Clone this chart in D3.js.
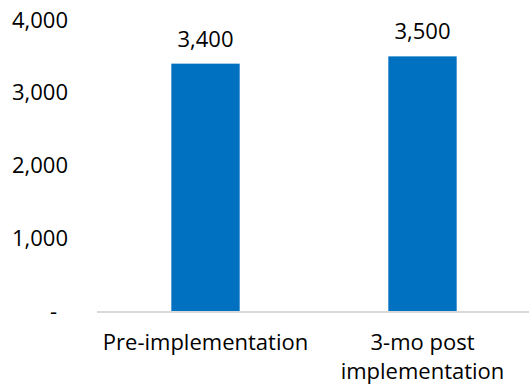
<!DOCTYPE html>
<html>
<head>
<meta charset="utf-8">
<script src="https://cdn.jsdelivr.net/npm/d3@7"></script>
<style>
  body { margin: 0; background: #fff; }
  text { font-family: "Open Sans", "Noto Sans", sans-serif; fill: #000; }
</style>
</head>
<body>
<div id="chart"></div>
<script>
// Chart data
const categories = ["Pre-implementation", "3-mo post\nimplementation"];
const values = [3400, 3500];
const yTicks = [0, 1000, 2000, 3000, 4000];

const svgWidth = 529, svgHeight = 384;
const margin = { top: 20, right: 0, bottom: 73, left: 97 };

const svg = d3.select("#chart")
    .append("svg")
    .attr("width", svgWidth)
    .attr("height", svgHeight);

const x = d3.scaleBand()
    .domain(categories)
    .range([margin.left, svgWidth + 2]);

const y = d3.scaleLinear()
    .domain([0, 4000])
    .range([svgHeight - margin.bottom, margin.top]);

const barWidth = x.bandwidth() * 0.315;

// y labels (no axis line)
const fmt = d => d === 0 ? "-" : d3.format(",")(d);
svg.append("g")
    .selectAll("text")
    .data(yTicks)
    .enter()
    .append("text")
    .attr("x", d => d === 0 ? 57 : 68)
    .attr("y", d => y(d))
    .attr("dy", "0.35em")
    .attr("text-anchor", "end")
    .style("font-size", "22px")
    .text(fmt);

// bars
svg.selectAll(".bar")
    .data(values)
    .enter()
    .append("rect")
    .attr("class", "bar")
    .attr("x", (d, i) => x(categories[i]) + (x.bandwidth() - barWidth) / 2)
    .attr("y", d => y(d))
    .attr("width", barWidth)
    .attr("height", d => y(0) - y(d))
    .attr("fill", "#0070c0");

// baseline
svg.append("line")
    .attr("x1", margin.left)
    .attr("x2", svgWidth)
    .attr("y1", y(0) + 1)
    .attr("y2", y(0) + 1)
    .attr("stroke", "#d9d9d9")
    .attr("stroke-width", 2);

// value labels
svg.selectAll(".bar-label")
    .data(values)
    .enter()
    .append("text")
    .attr("class", "bar-label")
    .attr("x", (d, i) => x(categories[i]) + x.bandwidth() / 2)
    .attr("y", d => y(d) - 17)
    .attr("text-anchor", "middle")
    .style("font-size", "22px")
    .text(d => d3.format(",")(d));

// category labels
const catLabels = svg.selectAll(".cat-label")
    .data(categories)
    .enter()
    .append("text")
    .attr("class", "cat-label")
    .attr("x", d => x(d) + x.bandwidth() / 2)
    .attr("y", 350)
    .attr("text-anchor", "middle")
    .style("font-size", "22px");

catLabels.selectAll("tspan")
    .data(d => d.split("\n").map(line => ({ line, cx: x(d) + x.bandwidth() / 2 })))
    .enter()
    .append("tspan")
    .attr("x", d => d.cx)
    .attr("dy", (d, i) => i === 0 ? 0 : 29)
    .text(d => d.line);
</script>
</body>
</html>
